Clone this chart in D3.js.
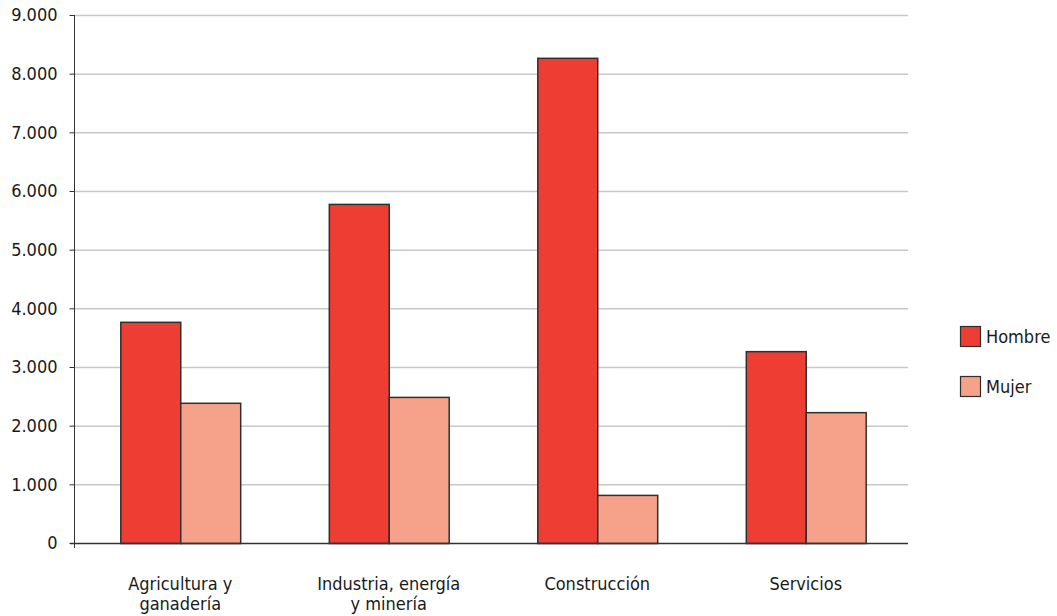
<!DOCTYPE html>
<html><head><meta charset="utf-8">
<script src="https://cdn.jsdelivr.net/npm/d3@7"></script>
<style>body{margin:0;background:#fff}svg{display:block}text{font-family:"Liberation Sans Narrow","DejaVu Sans Condensed",sans-serif;fill:#1a1a1a}</style>
</head><body><svg id="c" width="1057" height="616"></svg>
<script>
const categories = [["Agricultura y","ganadería"],["Industria, energía","y minería"],["Construcción"],["Servicios"]];
const seriesNames = ["Hombre","Mujer"];
const hombre = [3770, 5780, 8270, 3270];
const mujer = [2390, 2490, 820, 2230];
const yTicks = [0,1000,2000,3000,4000,5000,6000,7000,8000,9000];
const colors = ["#ee3e33","#f6a28a"];

const svg = d3.select("#c");
const pL = 74, pR = 908, pT = 15, pB = 543;
const y = d3.scaleLinear().domain([0,9000]).range([pB, pT]);
const x0 = d3.scaleBand().domain(d3.range(categories.length)).range([pL+2, pR+2]).paddingInner(0.425).paddingOuter(0.2125);
const x1 = d3.scaleBand().domain(seriesNames).range([0, x0.bandwidth()]);
const loc = d3.formatLocale({decimal:",", thousands:".", grouping:[3], currency:["",""]});
const fmt = loc.format(",d");

// gridlines
svg.append("g").selectAll("line").data(yTicks.filter(d=>d>0)).join("line")
  .attr("x1", pL).attr("x2", pR).attr("y1", d=>y(d)+0.5).attr("y2", d=>y(d)+0.5)
  .attr("stroke","#c8c8c8").attr("stroke-width",1.5);

// y axis
const ya = svg.append("g").attr("transform",`translate(${pL+0.5},0)`)
  .call(d3.axisLeft(y).tickValues(yTicks).tickFormat(fmt).tickSize(5).tickPadding(12));
ya.select(".domain").attr("stroke","#333").attr("d",`M0,${pT}V${pB+5}`);
ya.selectAll(".tick line").attr("stroke","#333");
ya.selectAll(".tick text").attr("font-size",18).attr("font-family",'"Liberation Sans Narrow","DejaVu Sans Condensed",sans-serif').attr("fill","#1a1a1a");

// bars
const data = categories.map((c,i)=>({i, vals:[hombre[i], mujer[i]]}));
const g = svg.append("g").selectAll("g").data(data).join("g")
  .attr("transform", d=>`translate(${x0(d.i)},0)`);
g.selectAll("rect").data(d=>d.vals.map((v,k)=>({k,v}))).join("rect")
  .attr("x", d=>x1(seriesNames[d.k])+0.5).attr("width", x1.bandwidth())
  .attr("y", d=>y(d.v)+0.5).attr("height", d=>pB-y(d.v))
  .attr("fill", d=>colors[d.k]).attr("stroke","#2f2f2f").attr("stroke-width",1.5);

// baseline
svg.append("line").attr("x1",pL-4).attr("x2",pR).attr("y1",pB+0.5).attr("y2",pB+0.5).attr("stroke","#333").attr("stroke-width",1.3);

// category labels
const cl = svg.append("g").selectAll("text").data(categories).join("text")
  .attr("x",(d,i)=>x0(i)+x0.bandwidth()/2).attr("y",590)
  .attr("text-anchor","middle").attr("font-size",18);
cl.selectAll("tspan").data(d=>d).join("tspan")
  .attr("x", function(){return this.parentNode.getAttribute("x");})
  .attr("dy",(d,j)=>j===0?0:20).text(d=>d);

// legend
const lg = svg.append("g").selectAll("g").data(seriesNames).join("g")
  .attr("transform",(d,i)=>`translate(960,${326+i*50})`);
lg.append("rect").attr("x",0.5).attr("y",0.5).attr("width",20).attr("height",20)
  .attr("fill",(d,i)=>colors[i]).attr("stroke","#2f2f2f").attr("stroke-width",1.2);
lg.append("text").attr("x",26).attr("y",17).attr("font-size",18).text(d=>d);
</script></body></html>
